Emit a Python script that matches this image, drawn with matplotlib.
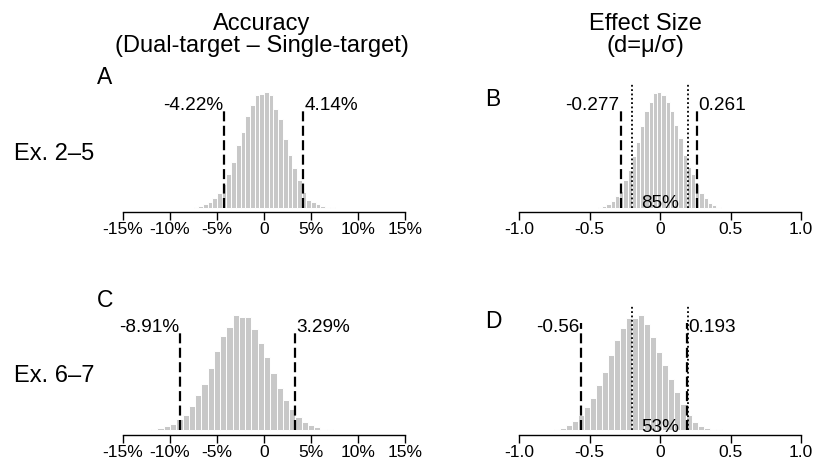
import numpy as np
from matplotlib import pyplot as plt

plt.rcParams['font.family'] = ['Liberation Sans', 'DejaVu Sans']

# histogram heights (arbitrary count units)
acc_a_start, acc_a_width = -7.5, 0.5
acc_a = [3, 6, 11, 18, 28, 45, 70, 100, 138, 188, 228, 276, 308, 340, 343,
         348, 338, 296, 268, 208, 158, 120, 83, 46, 23, 16, 10, 5, 2, 1]

eff_b_start, eff_b_width = -0.44, 0.03
eff_b = [3, 6, 12, 20, 34, 50, 82, 112, 157, 198, 245, 290, 318, 345, 347,
         340, 318, 292, 250, 210, 160, 122, 100, 72, 45, 28, 15, 8, 3]

acc_c_start, acc_c_width = -38 / 3, 2 / 3
acc_c = [2, 4, 8, 12, 20, 33, 47, 73, 105, 140, 187, 237, 282, 309, 347,
         339, 339, 305, 262, 220, 172, 127, 90, 63, 40, 25, 15, 9, 5, 3, 2]

eff_d_start, eff_d_width = -0.75, 0.0425
eff_d = [3, 7, 15, 28, 45, 70, 98, 135, 175, 225, 272, 308, 338, 338, 348,
         320, 280, 235, 195, 155, 115, 80, 45, 25, 14, 8, 5, 3, 1]

# credible intervals, ROPE and % inside ROPE
ci_a = [-4.22, 4.14]
ci_b = [-0.277, 0.261]
ci_c = [-8.91, 3.29]
ci_d = [-0.56, 0.193]
rope = [-0.2, 0.2]
rope_pct_b = '85%'
rope_pct_d = '53%'

acc_ticks = [-15, -10, -5, 0, 5, 10, 15]
acc_ticklabels = ['-15%', '-10%', '-5%', '0', '5%', '10%', '15%']
eff_ticks = [-1.0, -0.5, 0, 0.5, 1.0]
eff_ticklabels = ['-1.0', '-0.5', '0', '0.5', '1.0']

W, H = 814, 466
fig = plt.figure(figsize=(W / 100, H / 100), dpi=100)

unit = 115.7 / 348  # px per count unit


def make_ax(left_px, right_px, axis_px):
    y0 = -4.3 / unit
    height_px = 140
    y1 = y0 + height_px / unit
    ax = fig.add_axes([left_px / W, (H - axis_px) / H,
                       (right_px - left_px) / W, height_px / H])
    ax.patch.set_visible(False)
    ax.set_ylim(y0, y1)
    for s in ['left', 'top', 'right']:
        ax.spines[s].set_visible(False)
    ax.spines['bottom'].set_linewidth(1.0)
    ax.set_yticks([])
    ax.tick_params(axis='x', direction='out', length=5.5, width=1.0,
                   pad=2, labelsize=12.5)
    return ax


def draw_hist(ax, start, width, counts):
    edges = start + width * np.arange(len(counts) + 1)
    ax.bar(edges[:-1], counts, width=width, align='edge', color='#c8c8c8',
           edgecolor='white', linewidth=0.7)


def draw_ci(ax, ci, fmt, top):
    for i, v in enumerate(ci):
        ax.plot([v, v], [0, top], color='black', lw=1.6,
                linestyle=(0, (4.5, 2)), clip_on=False)
        ax.annotate(fmt(v), (v, 295), xytext=(-1 if i == 0 else 1, 0),
                    textcoords='offset points', ha='right' if i == 0 else 'left',
                    va='baseline', fontsize=13.7)


def draw_rope(ax, pct, y):
    for v in rope:
        ax.plot([v, v], [0, 374], color='black', lw=1.3,
                linestyle=(0, (1, 1.4)), clip_on=False)
    ax.text(0, y, pct, ha='center', va='baseline', fontsize=13.7)


acc_fmt = lambda v: '%.2f%%' % v
eff_fmt = lambda v: ('%.3f' % v).rstrip('0')

rows = [(212, acc_a_start, acc_a_width, acc_a, ci_a, 300,
         eff_b_start, eff_b_width, eff_b, ci_b, 299, rope_pct_b, 0, 'A', 'B'),
        (434.5, acc_c_start, acc_c_width, acc_c, ci_c, 295,
         eff_d_start, eff_d_width, eff_d, ci_d, 321, rope_pct_d, -6, 'C', 'D')]

for (axis_px, a0, aw, ac, aci, atop, b0, bw, bc, bci, btop, pct, py,
     la, lb) in rows:
    ax1 = make_ax(123, 405, axis_px)
    draw_hist(ax1, a0, aw, ac)
    ax1.set_xlim(-15, 15)
    ax1.set_xticks(acc_ticks)
    ax1.set_xticklabels(acc_ticklabels)
    draw_ci(ax1, aci, acc_fmt, atop)

    ax2 = make_ax(519, 801, axis_px)
    draw_hist(ax2, b0, bw, bc)
    ax2.set_xlim(-1, 1)
    ax2.set_xticks(eff_ticks)
    ax2.set_xticklabels(eff_ticklabels)
    draw_ci(ax2, bci, eff_fmt, btop)
    draw_rope(ax2, pct, py)

    fig.text(97 / W, 1 - (axis_px - 134) / H, la, fontsize=16.5, ha='left', va='center')
    fig.text(485 / W, 1 - (axis_px - 113) / H, lb, fontsize=16.5, ha='left', va='center')

# column titles and row labels
fig.text(262 / W, 1 - 24 / H, 'Accuracy', fontsize=17, ha='center', va='center')
fig.text(262 / W, 1 - 46 / H, '(Dual-target \u2013 Single-target)', fontsize=17,
         ha='center', va='center')
fig.text(645 / W, 1 - 24 / H, 'Effect Size', fontsize=17, ha='center', va='center')
fig.text(645 / W, 1 - 46 / H, '(d=\u03bc/\u03c3)', fontsize=17, ha='center', va='center')
fig.text(14 / W, 1 - 154 / H, 'Ex. 2\u20135', fontsize=17, ha='left', va='center')
fig.text(14 / W, 1 - 376 / H, 'Ex. 6\u20137', fontsize=17, ha='left', va='center')

fig.savefig('out.png', dpi=100)
